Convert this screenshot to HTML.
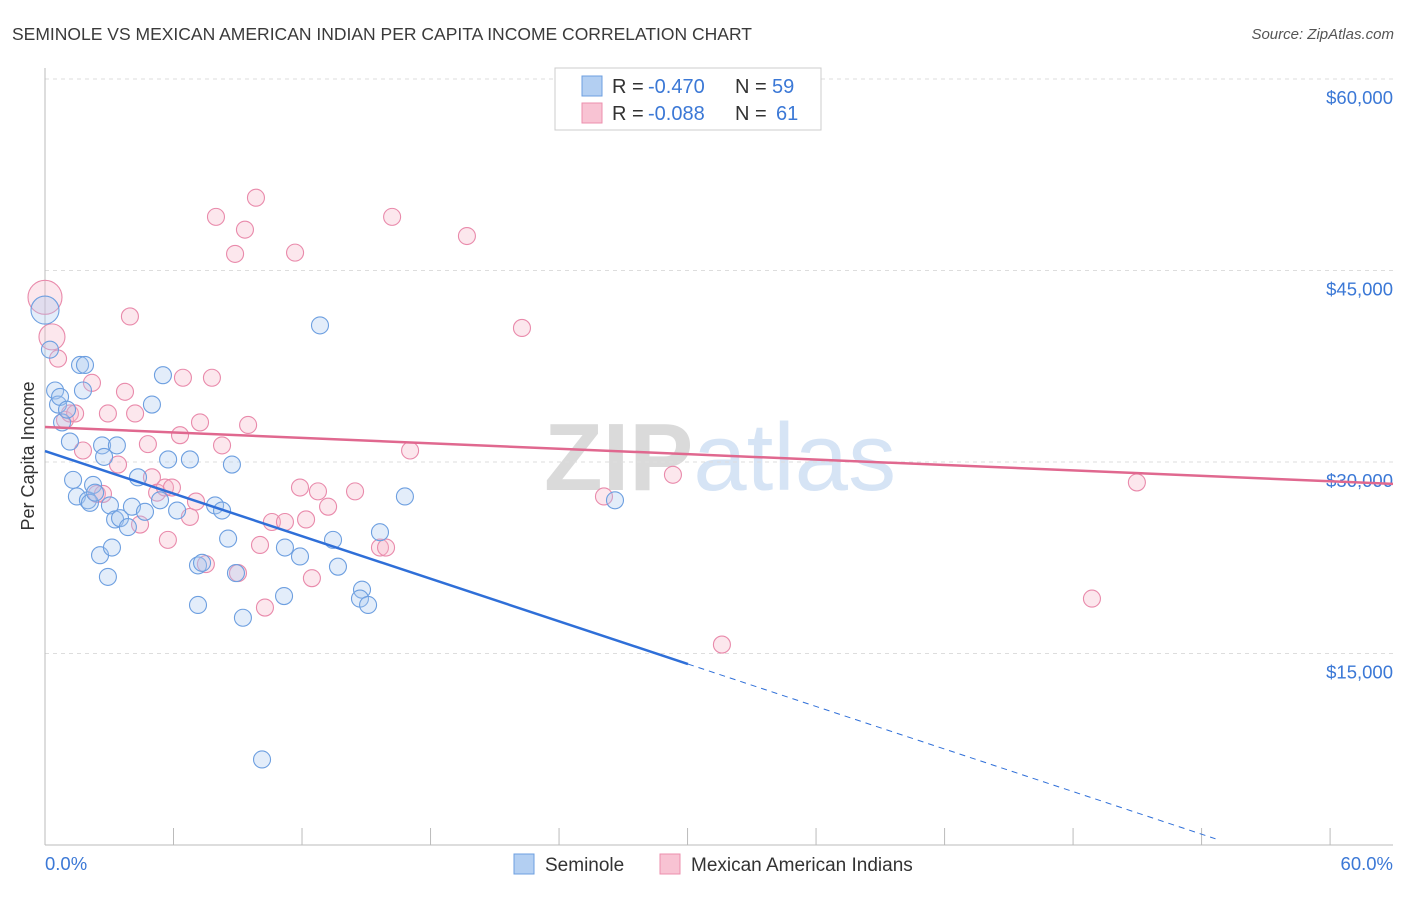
<!DOCTYPE html>
<html><head><meta charset="utf-8"><style>
body{margin:0;background:#fff;font-family:"Liberation Sans",sans-serif;}
svg text{font-family:"Liberation Sans",sans-serif;}
</style></head><body>
<svg id="chart" width="1406" height="892">
<text x="12" y="40" font-size="17.5" fill="#3a3a3a">SEMINOLE VS MEXICAN AMERICAN INDIAN PER CAPITA INCOME CORRELATION CHART</text>
<text x="1394" y="39" font-size="15" fill="#555" font-style="italic" text-anchor="end">Source: ZipAtlas.com</text>
<text x="720" y="490" font-size="96" fill="#dcdcdc" text-anchor="middle" font-weight="bold"><tspan fill="#dadada">ZIP</tspan><tspan fill="#d6e4f5" font-weight="normal">atlas</tspan></text>
<g id="grid"></g>
<g id="axes"></g>
<g id="marks"></g>
<text transform="translate(34,456) rotate(-90)" font-size="18" fill="#333" text-anchor="middle">Per Capita Income</text>
<g>
<rect x="555" y="68" width="266" height="62" fill="#fff" stroke="#ccc"/>
<rect x="582" y="76" width="20" height="20" fill="#b3cff2" stroke="#6d9fe0"/>
<rect x="582" y="103" width="20" height="20" fill="#f8c3d3" stroke="#ec8fae"/>
<g font-size="20">
<text x="612" y="93" fill="#333">R =</text><text x="648" y="93" fill="#3b78d6">-0.470</text>
<text x="735" y="93" fill="#333">N =</text><text x="772" y="93" fill="#3b78d6">59</text></g>
<g font-size="20">
<text x="612" y="120" fill="#333">R =</text><text x="648" y="120" fill="#3b78d6">-0.088</text>
<text x="735" y="120" fill="#333">N =</text><text x="776" y="120" fill="#3b78d6">61</text></g>
</g>
<g>
<rect x="514" y="854" width="20" height="20" fill="#b3cff2" stroke="#6d9fe0"/>
<text x="545" y="871" font-size="19" fill="#333">Seminole</text>
<rect x="660" y="854" width="20" height="20" fill="#f8c3d3" stroke="#ec8fae"/>
<text x="691" y="871" font-size="19" fill="#333">Mexican American Indians</text>
</g>
</svg>
<script>
const blueX=[0,0.22,0.45,0.58,0.67,0.76,0.98,1.11,1.25,1.42,1.56,1.78,1.69,1.91,2.0,2.14,2.23,2.45,2.54,2.63,2.8,2.89,2.98,3.12,3.2,3.34,3.69,3.87,4.14,4.45,4.76,5.12,5.25,5.48,5.88,6.45,6.81,6.81,6.99,7.57,7.88,8.15,8.32,8.5,8.81,9.66,10.68,10.64,11.35,12.24,12.82,13.04,14.11,14.02,14.38,14.91,16.02,25.37];
const blueY=[41900,38800,35600,34500,35100,33100,34100,31600,28600,27300,37600,37600,35600,27000,26800,28200,27600,22700,31300,30400,21000,26600,23300,25500,31300,25600,24900,26500,28800,26100,34500,27000,36800,30200,26200,30200,18800,21900,22100,26600,26200,24000,29800,21300,17800,6700,23300,19500,22600,40700,23900,21800,20000,19300,18800,24500,27300,27000];
const pinkX=[0,0.31,0.58,0.89,1.11,1.34,1.69,2.09,2.31,2.58,2.8,3.25,3.56,3.78,4.01,4.23,4.58,4.76,4.99,5.34,5.47,5.65,6.01,6.14,6.45,6.72,6.9,7.16,7.43,7.61,7.88,8.46,8.59,8.9,9.04,9.39,9.57,9.79,10.1,10.68,11.13,11.35,11.62,11.88,12.15,12.6,13.8,14.91,15.18,15.45,16.25,18.78,21.23,24.88,27.95,30.13,46.6,48.6];
const pinkY=[42900,39800,38100,33300,33800,33800,30900,36200,27500,27500,33800,29800,35500,41400,33800,25100,31400,28800,27600,28000,23900,28000,32100,36600,25700,26900,33100,22000,36600,49200,31300,46300,21300,48200,32900,50700,23500,18600,25300,25300,46400,28000,25500,20900,27700,26500,27700,23300,23300,49200,30900,47700,40500,27300,29000,15700,19300,28400];
const yTicks=[15000,30000,45000,60000];
const yTickLabels=["$15,000","$30,000","$45,000","$60,000"];
const xTicks=[0,5.72,11.44,17.16,22.88,28.6,34.32,40.04,45.76,51.48,57.2];
const blueTrend=[30860,-583];
const pinkTrend=[32740,-74.3];
const X0=45,X1=1393,Y0=845;
const sx=v=>X0+(v/60)*(X1-X0);
const sy=v=>Y0-v/15000*191.5;
const NS="http://www.w3.org/2000/svg";
function mk(tag,attrs,parent){const e=document.createElementNS(NS,tag);for(const k in attrs)e.setAttribute(k,attrs[k]);document.getElementById(parent).appendChild(e);return e;}
yTicks.forEach((t,i)=>{
 const g=mk('line',{x1:X0,x2:X1,y1:sy(t),y2:sy(t),stroke:'#ddd','stroke-dasharray':'4,4'},'grid');
 
 
 const l=mk('text',{x:1393,y:sy(t)+25,'font-size':18.5,fill:'#3b78d6','text-anchor':'end'},'axes');
 l.textContent=yTickLabels[i];
 
 
});
const ax=mk('line',{x1:X0,x2:X1,y1:Y0,y2:Y0,stroke:'#bbb'},'axes');


const ay=mk('line',{x1:X0,x2:X0,y1:68,y2:Y0,stroke:'#bbb'},'axes');


xTicks.forEach(t=>{
 const e=mk('line',{x1:sx(t),x2:sx(t),y1:Y0,y2:Y0-17,stroke:'#bbb'},'axes');
 
 
});
const xl0=mk('text',{x:45,y:870,'font-size':18.5,fill:'#3b78d6'},'axes');xl0.textContent='0.0%';


const xl1=mk('text',{x:1393,y:870,'font-size':18.5,fill:'#3b78d6','text-anchor':'end'},'axes');xl1.textContent='60.0%';


function dots(xs,ys,fill,stroke,name){
 xs.forEach((x,i)=>{
  const r=(x===0)?(name==='pink-point'?17:14):(i===1&&name==='pink-point'?13:8.5);
  const c=mk('circle',{cx:sx(x),cy:sy(ys[i]),r:r,fill:fill,'fill-opacity':0.32,stroke:stroke,'stroke-width':1.1},'marks');
  
  
 });
}
dots(pinkX,pinkY,'#f5b3c8','#e98aab','pink-point');
dots(blueX,blueY,'#a9c8f0','#6d9fe0','blue-point');
const bxEnd=28.62;
const bl=mk('line',{x1:sx(0),y1:sy(blueTrend[0]),x2:sx(bxEnd),y2:sy(blueTrend[0]+blueTrend[1]*bxEnd),stroke:'#2f6fd8','stroke-width':2.5},'marks');


const bd=mk('line',{x1:sx(bxEnd),y1:sy(blueTrend[0]+blueTrend[1]*bxEnd),x2:sx(52.1),y2:sy(blueTrend[0]+blueTrend[1]*52.1),stroke:'#2f6fd8','stroke-width':1,'stroke-dasharray':'6,5'},'marks');


const pl=mk('line',{x1:sx(0),y1:sy(pinkTrend[0]),x2:sx(60),y2:sy(pinkTrend[0]+pinkTrend[1]*60),stroke:'#e0688f','stroke-width':2.5},'marks');


</script>
</body></html>
